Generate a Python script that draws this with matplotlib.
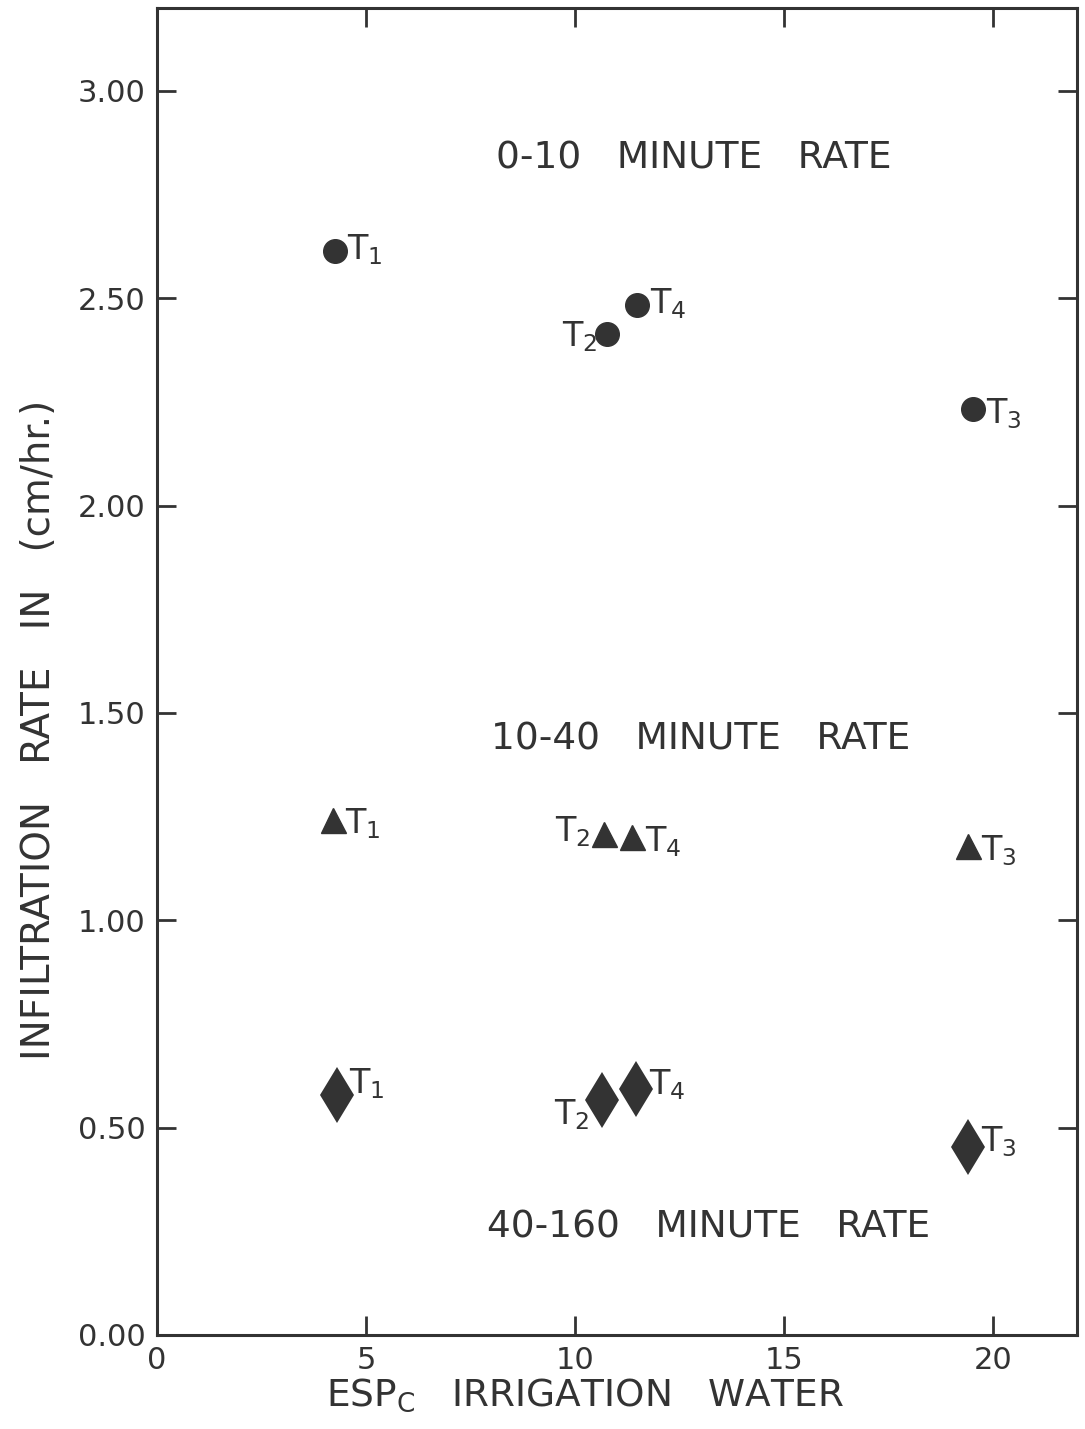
import matplotlib
matplotlib.use("Agg")
import matplotlib.pyplot as plt

# ---- data ----
treatments = ["1", "2", "4", "3"]
esp_c = [4.25, 10.76, 11.48, 19.52]
rate_0_10 = [2.614, 2.414, 2.484, 2.233]
esp_c_tri = [4.20, 10.69, 11.36, 19.40]
rate_10_40 = [1.243, 1.207, 1.202, 1.178]
esp_c_dia = [4.30, 10.64, 11.46, 19.40]
rate_40_160 = [0.579, 0.567, 0.594, 0.454]

x_ticks = [0, 5, 10, 15, 20]
y_ticks = [0.0, 0.5, 1.0, 1.5, 2.0, 2.5, 3.0]
series_titles = ["0-10   MINUTE   RATE", "10-40   MINUTE   RATE", "40-160   MINUTE   RATE"]

# ---- style ----
ink = "#333333"
plt.rcParams["font.family"] = ["DejaVu Sans"]
plt.rcParams["mathtext.fontset"] = "dejavusans"

fig = plt.figure(figsize=(10.85, 14.29), dpi=100)
ax = fig.add_axes([0.1447, 0.0658, 0.9926 - 0.1447, 0.9944 - 0.0658])
ax.set_xlim(0, 22)
ax.set_ylim(0, 3.2)

for s in ax.spines.values():
    s.set_linewidth(2.2)
    s.set_color(ink)

ax.set_xticks(x_ticks)
ax.set_yticks(y_ticks)
ax.set_yticklabels([f"{v:.2f}" for v in y_ticks])
ax.tick_params(direction="in", length=14, width=2, color=ink, labelsize=22,
               labelcolor=ink, top=True, right=True, pad=8)

ax.plot(esp_c, rate_0_10, "o", ms=17, color=ink, mec=ink)
ax.plot(esp_c_tri, rate_10_40, "^", ms=18, color=ink, mec=ink)
ax.plot(esp_c_dia, rate_40_160, "d", ms=29, color=ink, mec=ink, mew=0)

# label offsets (points) for each treatment label; (dx, dy, ha)
circle_off = [(9, 1, "left"), (-7, -2, "right"), (9, 1, "left"), (9, -3, "left")]
tri_off = [(9, -3, "left"), (-10, 2, "right"), (9, -4, "left"), (9, -3, "left")]
dia_off = [(9, 8, "left"), (-9, -11, "right"), (9, 3, "left"), (9, 4, "left")]

def label(xs, ys, offs):
    for t, x, y, (dx, dy, ha) in zip(treatments, xs, ys, offs):
        ax.annotate(r"$\mathregular{T_{" + t + r"}}$", (x, y), xytext=(dx, dy),
                    textcoords="offset points", ha=ha, va="center",
                    fontsize=24, color=ink)

label(esp_c, rate_0_10, circle_off)
label(esp_c_tri, rate_10_40, tri_off)
label(esp_c_dia, rate_40_160, dia_off)

title_pos = [(12.84, 2.836), (13.0, 1.436), (13.2, 0.258)]
for txt, (x, y) in zip(series_titles, title_pos):
    ax.text(x, y, txt, ha="center", va="center", fontsize=27, color=ink)

ax.set_xlabel(r"$\mathregular{ESP_C}$   IRRIGATION   WATER", fontsize=27,
              color=ink)
ax.xaxis.set_label_coords(0.465, -0.031)
ax.set_ylabel("INFILTRATION   RATE   IN   (cm/hr.)", fontsize=28, color=ink)
ax.yaxis.set_label_coords(-0.108, 0.456)

fig.savefig("out.png", dpi=100, facecolor="white")
